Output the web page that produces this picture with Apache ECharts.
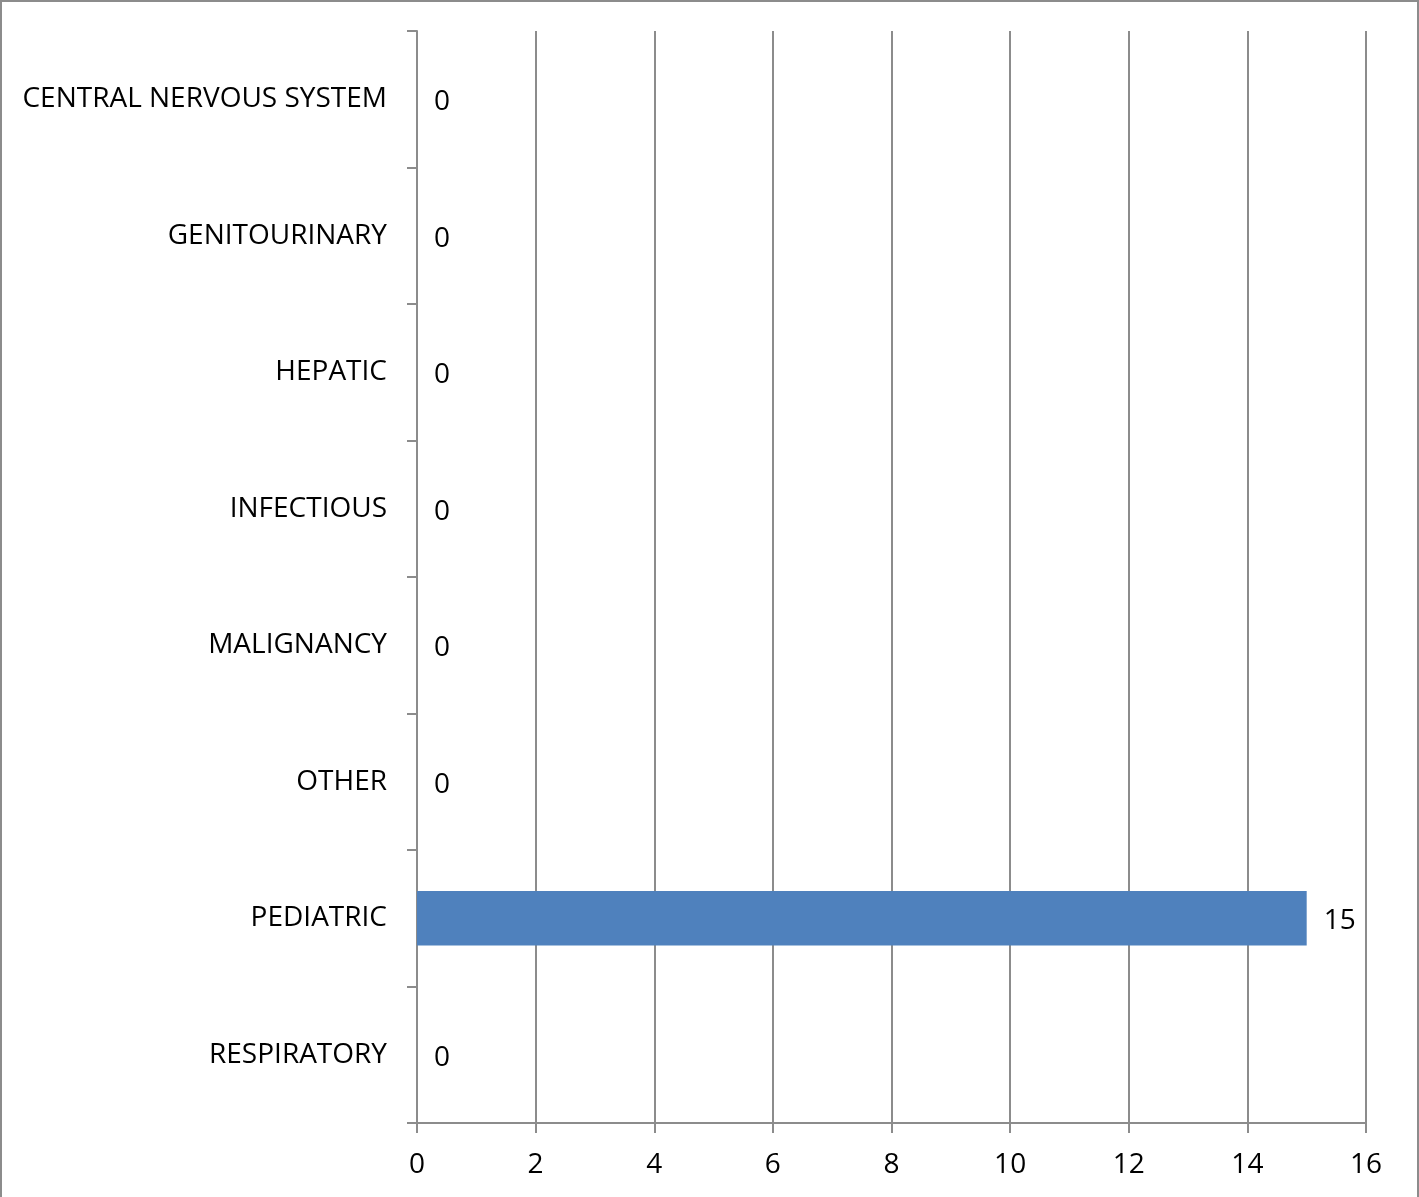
<!DOCTYPE html>
<html><head><meta charset="utf-8">
<script src="https://cdn.jsdelivr.net/npm/echarts@6/dist/echarts.min.js"></script>
<style>html,body{margin:0;padding:0;background:#fff}#c{width:1419px;height:1197px;box-sizing:border-box;border:2px solid #8c8c8c;border-bottom:none;position:relative}</style>
</head><body><div id="c"></div>
<script>
const categories = ["RESPIRATORY","PEDIATRIC","OTHER","MALIGNANCY","INFECTIOUS","HEPATIC","GENITOURINARY","CENTRAL NERVOUS SYSTEM"];
const values = [0,15,0,0,0,0,0,0];
const xTicks = {min:0,max:16,interval:2};
const chart = echarts.init(document.getElementById('c'), null, {renderer:'canvas'});
const font = "Open Sans";
chart.setOption({
  animation:false,
  grid:{left:415,right:51,top:29,bottom:74,containLabel:false},
  xAxis:{type:'value',min:xTicks.min,max:xTicks.max,interval:xTicks.interval,
    axisLine:{show:true,lineStyle:{color:'#8c8c8c',width:2}},
    axisTick:{show:true,length:10,lineStyle:{color:'#8c8c8c',width:2}},
    splitLine:{show:true,lineStyle:{color:'#8c8c8c',width:2}},
    axisLabel:{color:'#000',fontFamily:font,fontSize:28,margin:28}},
  yAxis:{type:'category',data:categories,
    axisLine:{show:true,lineStyle:{color:'#8c8c8c',width:2}},
    axisTick:{show:true,length:10,lineStyle:{color:'#8c8c8c',width:2}},
    axisLabel:{color:'#000',fontFamily:font,fontSize:28,margin:30,padding:[3,0,0,0]}},
  series:[{type:'bar',data:values,barWidth:'40%',itemStyle:{color:'#4f81bd'},
    label:{show:true,position:'right',distance:17,color:'#000',fontFamily:font,fontSize:28,offset:[0,3]}}]
});
</script></body></html>
